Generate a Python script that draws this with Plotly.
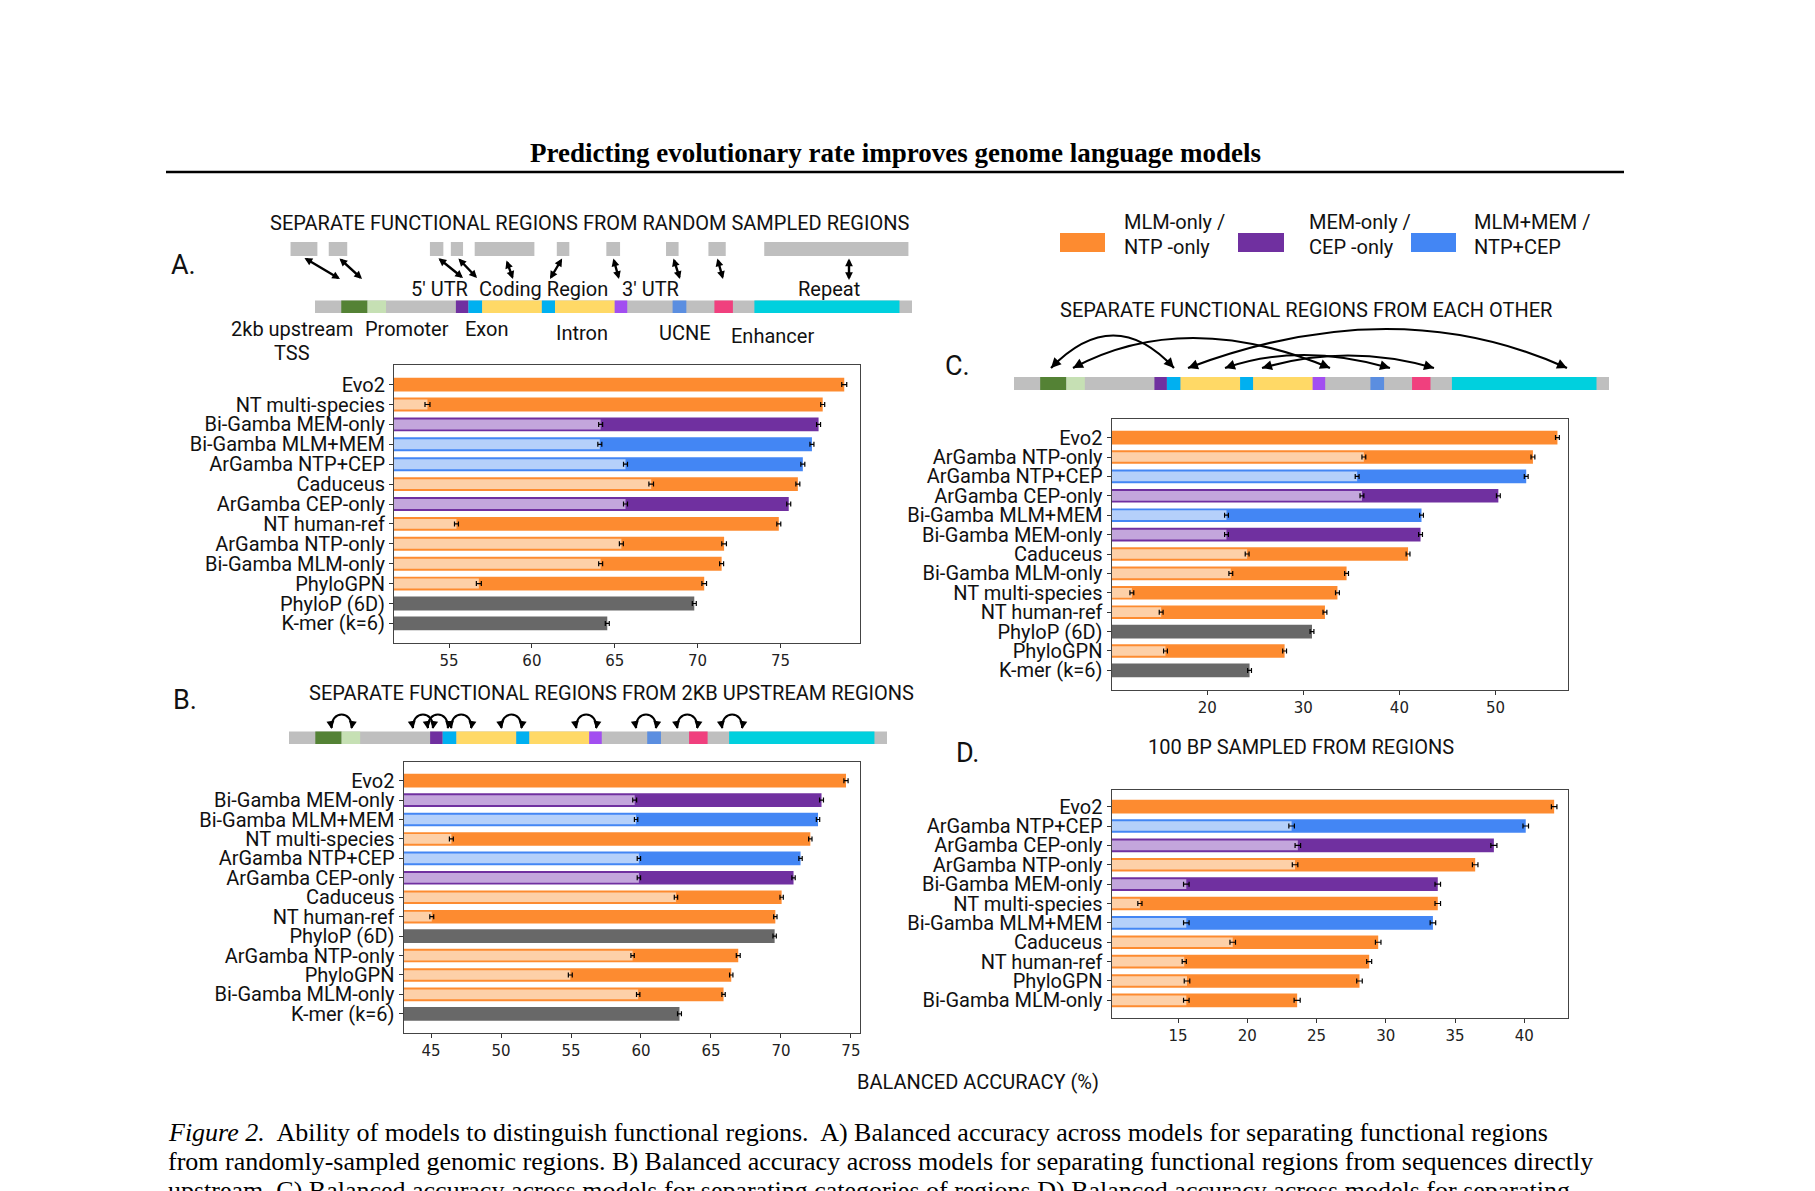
import plotly.graph_objects as go

W, H = 1815, 1191
PAGE_OFFSET = 8  # the browser body margin shifts the figure by this many pixels

# ---------------- data (balanced accuracy, %) ----------------
A_models = ["Evo2", "NT multi-species", "Bi-Gamba MEM-only", "Bi-Gamba MLM+MEM", "ArGamba NTP+CEP",
            "Caduceus", "ArGamba CEP-only", "NT human-ref", "ArGamba NTP-only", "Bi-Gamba MLM-only",
            "PhyloGPN", "PhyloP (6D)", "K-mer (k=6)"]
A_trained = [78.85, 77.55, 77.3, 76.9, 76.35, 76.05, 75.5, 74.9, 71.6, 71.45, 70.4, 69.8, 64.55]
A_trained_err = [0.15, 0.12, 0.12, 0.12, 0.12, 0.12, 0.12, 0.12, 0.14, 0.12, 0.14, 0.12, 0.12]
A_base = [None, 53.7, 64.15, 64.1, 65.65, 67.2, 65.65, 55.45, 65.4, 64.15, 56.8, None, None]
A_base_err = [None, 0.15, 0.12, 0.12, 0.12, 0.14, 0.12, 0.12, 0.12, 0.12, 0.15, None, None]
A_kind = ["mlm", "mlm", "mem", "both", "both", "mlm", "mem", "mlm", "mlm", "mlm", "mlm", "base", "base"]

B_models = ["Evo2", "Bi-Gamba MEM-only", "Bi-Gamba MLM+MEM", "NT multi-species", "ArGamba NTP+CEP",
            "ArGamba CEP-only", "Caduceus", "NT human-ref", "PhyloP (6D)", "ArGamba NTP-only",
            "PhyloGPN", "Bi-Gamba MLM-only", "K-mer (k=6)"]
B_trained = [74.65, 72.9, 72.65, 72.1, 71.4, 70.9, 70.05, 69.6, 69.55, 66.95, 66.45, 65.9, 62.75]
B_trained_err = [0.15, 0.14, 0.12, 0.12, 0.12, 0.12, 0.12, 0.12, 0.12, 0.14, 0.12, 0.12, 0.14]
B_base = [None, 59.55, 59.65, 46.45, 59.85, 59.85, 62.5, 45.05, None, 59.4, 54.95, 59.8, None]
B_base_err = [None, 0.14, 0.12, 0.14, 0.12, 0.12, 0.12, 0.14, None, 0.12, 0.14, 0.12, None]
B_kind = ["mlm", "mem", "both", "mlm", "both", "mem", "mlm", "mlm", "base", "mlm", "mlm", "mlm", "base"]

C_models = ["Evo2", "ArGamba NTP-only", "ArGamba NTP+CEP", "ArGamba CEP-only", "Bi-Gamba MLM+MEM",
            "Bi-Gamba MEM-only", "Caduceus", "Bi-Gamba MLM-only", "NT multi-species", "NT human-ref",
            "PhyloP (6D)", "PhyloGPN", "K-mer (k=6)"]
C_trained = [56.45, 53.9, 53.2, 50.3, 42.3, 42.2, 40.9, 34.5, 33.55, 32.25, 30.9, 28.05, 24.4]
C_trained_err = [0.2, 0.2, 0.2, 0.2, 0.2, 0.2, 0.2, 0.2, 0.2, 0.2, 0.2, 0.2, 0.2]
C_base = [None, 36.3, 35.6, 36.1, 22.0, 22.0, 24.15, 22.45, 12.15, 15.2, None, 15.65, None]
C_base_err = [None, 0.2, 0.2, 0.2, 0.2, 0.2, 0.2, 0.2, 0.2, 0.2, None, 0.2, None]
C_kind = ["mlm", "mlm", "both", "mem", "both", "mem", "mlm", "mlm", "mlm", "mlm", "base", "mlm", "base"]

D_models = ["Evo2", "ArGamba NTP+CEP", "ArGamba CEP-only", "ArGamba NTP-only", "Bi-Gamba MEM-only",
            "NT multi-species", "Bi-Gamba MLM+MEM", "Caduceus", "NT human-ref", "PhyloGPN",
            "Bi-Gamba MLM-only"]
D_trained = [42.15, 40.1, 37.8, 36.45, 33.75, 33.75, 33.4, 29.45, 28.8, 28.1, 23.6]
D_trained_err = [0.2, 0.2, 0.22, 0.2, 0.2, 0.2, 0.2, 0.2, 0.18, 0.2, 0.22]
D_base = [None, 23.2, 23.65, 23.45, 15.6, 12.25, 15.6, 18.95, 15.45, 15.65, 15.6]
D_base_err = [None, 0.2, 0.2, 0.2, 0.2, 0.15, 0.2, 0.2, 0.15, 0.2, 0.2]
D_kind = ["mlm", "both", "mem", "mlm", "mem", "mlm", "both", "mlm", "mlm", "mlm", "mlm"]

A_ticks = [55, 60, 65, 70, 75]
B_ticks = [45, 50, 55, 60, 65, 70, 75]
C_ticks = [20, 30, 40, 50]
D_ticks = [15, 20, 25, 30, 35, 40]

# ---------------- styling ----------------
DARK = {"mlm": "#fd8b30", "mem": "#7030a0", "both": "#4386f4", "base": "#686868"}
LIGHT = {"mlm": "#fdd0a8", "mem": "#c3a6dc", "both": "#b5d0fa", "base": "#686868"}
LABEL_FONT = "Roboto"
TICK_FONT = "DejaVu Sans"


def fx(x):
    return (x - PAGE_OFFSET) / W


def fy(y):
    return 1 - (y - PAGE_OFFSET) / H


fig = go.Figure()
shapes = []
annos = []

# panel frames in screen pixels: left, right, top, bottom
panels = [
    (A_models, A_trained, A_trained_err, A_base, A_base_err, A_kind, (394, 860, 365, 643), (51.68, 79.8), A_ticks),
    (B_models, B_trained, B_trained_err, B_base, B_base_err, B_kind, (403.5, 860, 761.5, 1033), (43.03, 75.65), B_ticks),
    (C_models, C_trained, C_trained_err, C_base, C_base_err, C_kind, (1111.5, 1568, 418.5, 689.5), (10.03, 57.55), C_ticks),
    (D_models, D_trained, D_trained_err, D_base, D_base_err, D_kind, (1111.5, 1568, 789.5, 1017.5), (10.2, 43.15), D_ticks),
]

layout_axes = {}
for i, (models, trained, terr, base, berr, kind, box, xr, ticks) in enumerate(panels, start=1):
    xa, ya = ("x", "y") if i == 1 else (f"x{i}", f"y{i}")
    n = len(models)
    pos = list(range(n))
    fig.add_trace(go.Bar(
        x=trained, y=pos, orientation="h", width=0.7,
        marker=dict(color=[DARK[k] for k in kind], line=dict(width=0)),
        error_x=dict(type="data", array=terr, color="black", thickness=1.2, width=2.5),
        xaxis=xa, yaxis=ya, showlegend=False,
    ))
    idx = [j for j in pos if base[j] is not None]
    fig.add_trace(go.Bar(
        x=[base[j] for j in idx], y=idx, orientation="h", width=0.5,
        marker=dict(color=[LIGHT[kind[j]] for j in idx], line=dict(width=0)),
        error_x=dict(type="data", array=[berr[j] for j in idx], color="black", thickness=1.2, width=2.5),
        xaxis=xa, yaxis=ya, showlegend=False,
    ))
    l, r, t, b = box
    m = 0.05 * (n - 1 + 0.7) + 0.35
    key = "" if i == 1 else str(i)
    layout_axes["xaxis" + key] = dict(
        domain=[fx(l), fx(r)], range=list(xr), anchor=ya, tickvals=ticks,
        ticks="outside", ticklen=4, tickcolor="#333", showline=True, mirror=True,
        linecolor="#444", linewidth=1, showgrid=False, zeroline=False,
        tickfont=dict(family=TICK_FONT, size=15, color="#222"),
    )
    layout_axes["yaxis" + key] = dict(
        domain=[fy(b), fy(t)], range=[n - 1 + m, -m], anchor=xa, tickvals=pos, ticktext=models,
        ticks="outside", ticklen=4, tickcolor="#333", showline=True, mirror=True,
        linecolor="#444", linewidth=1, showgrid=False, zeroline=False,
        tickfont=dict(family=LABEL_FONT, size=20, color="#111"),
    )

# ---------------- genome schematics ----------------
GENOME_GREY = "#bfbfbf"
SEGMENTS = [
    (0.044, 0.088, "#548235"), (0.088, 0.119, "#c6e0b4"), (0.236, 0.257, "#7030a0"),
    (0.257, 0.280, "#00b0f0"), (0.280, 0.380, "#ffd966"), (0.380, 0.402, "#00b0f0"),
    (0.402, 0.502, "#ffd966"), (0.502, 0.523, "#a24ef0"), (0.599, 0.622, "#5b8ee0"),
    (0.669, 0.700, "#f0407e"), (0.736, 0.979, "#00d0de"),
]


def rect(x0, x1, y0, y1, color):
    shapes.append(dict(type="rect", xref="paper", yref="paper", x0=fx(x0), x1=fx(x1),
                       y0=fy(y1), y1=fy(y0), fillcolor=color, line=dict(width=0), layer="above"))


def genome_bar(x0, x1, y0, y1):
    rect(x0, x1, y0, y1, GENOME_GREY)
    for s, e, c in SEGMENTS:
        rect(x0 + s * (x1 - x0), x0 + e * (x1 - x0), y0, y1, c)


def text(x, y, s, size=20, family=LABEL_FONT, anchor="center", color="#111", **kw):
    annos.append(dict(x=fx(x), y=fy(y), xref="paper", yref="paper", text=s, showarrow=False,
                      xanchor=anchor, yanchor="middle", font=dict(family=family, size=size, color=color), **kw))


def arrow_head(x, y, dx, dy, length=6, size=1.0):
    # small arrow pointing to (x, y), coming from direction (dx, dy)
    norm = (dx * dx + dy * dy) ** 0.5
    annos.append(dict(x=fx(x), y=fy(y), xref="paper", yref="paper", text="", showarrow=True,
                      axref="pixel", ayref="pixel", ax=-dx / norm * length, ay=-dy / norm * length,
                      arrowhead=2, arrowsize=size, arrowwidth=2, arrowcolor="black", standoff=0))


def arc(xa, ya, xb, yb, cx, cy):
    shapes.append(dict(type="path", xref="paper", yref="paper",
                       path=f"M {fx(xa)},{fy(ya)} Q {fx(cx)},{fy(cy)} {fx(xb)},{fy(yb)}",
                       line=dict(color="black", width=2.2), layer="above"))
    arrow_head(xa, ya, xa - cx, ya - cy)
    arrow_head(xb, yb, xb - cx, yb - cy)


def hop(c, half, base_y, top_y):
    # small rounded arch with heads on both feet
    x0, x1 = c - half, c + half
    shapes.append(dict(type="path", xref="paper", yref="paper",
                       path=(f"M {fx(x0)},{fy(base_y)} C {fx(x0 - 1)},{fy(top_y)} "
                             f"{fx(x1 + 1)},{fy(top_y)} {fx(x1)},{fy(base_y)}"),
                       line=dict(color="black", width=2.2), layer="above"))
    arrow_head(x0, base_y + 1, 0.15, 1, length=4, size=0.8)
    arrow_head(x1, base_y + 1, -0.15, 1, length=4, size=0.8)


# title + rule
text(895, 153, "<b>Predicting evolutionary rate improves genome language models</b>", size=27,
     family="Liberation Serif", color="black")
shapes.append(dict(type="line", xref="paper", yref="paper", x0=fx(166), x1=fx(1624), y0=fy(172), y1=fy(172),
                   line=dict(color="black", width=2.5)))

# panel A schematic
text(589, 223, "SEPARATE FUNCTIONAL REGIONS FROM RANDOM SAMPLED REGIONS")
text(183, 265, "A.", size=27)
ax0, ax1 = 315, 912
for s, e in [(-0.041, 0.004), (0.023, 0.054), (0.1925, 0.215), (0.2275, 0.248), (0.2675, 0.3675),
             (0.405, 0.426), (0.488, 0.511), (0.588, 0.609), (0.659, 0.688), (0.7525, 0.994)]:
    rect(ax0 + s * (ax1 - ax0), ax0 + e * (ax1 - ax0), 242, 256, GENOME_GREY)
genome_bar(ax0, ax1, 300.5, 313)
for xt, yt, xh, yh in [(303, 257, 340, 279), (338, 257, 362, 279), (437, 257, 463, 278), (457, 257, 477, 278),
                       (506, 259, 513, 279), (563, 257, 550, 279), (613, 257, 619, 279), (673, 257, 680, 279),
                       (717, 257, 723, 279), (849, 257, 849, 280)]:
    annos.append(dict(x=fx(xh), y=fy(yh), xref="paper", yref="paper", text="", showarrow=True,
                      axref="pixel", ayref="pixel", ax=xt - xh, ay=yt - yh, arrowside="end+start",
                      arrowhead=2, startarrowhead=2, arrowsize=0.65, startarrowsize=0.65, arrowwidth=2.4,
                      arrowcolor="black", standoff=0, startstandoff=0))
text(439, 289, "5′ UTR")
text(543, 289, "Coding Region")
text(650, 289, "3′ UTR")
text(829, 289, "Repeat")
text(292, 329, "2kb upstream")
text(292, 353, "TSS")
text(407, 329, "Promoter")
text(487, 329, "Exon")
text(582, 333, "Intron")
text(685, 333, "UCNE")
text(772, 336, "Enhancer")

# panel B schematic
text(611, 693, "SEPARATE FUNCTIONAL REGIONS FROM 2KB UPSTREAM REGIONS")
text(185, 700, "B.", size=27)
bx0, bx1 = 289, 887
genome_bar(bx0, bx1, 731.5, 744)
for f in [0.088, 0.224, 0.249, 0.288, 0.372, 0.497, 0.597, 0.666, 0.741]:
    hop(bx0 + f * (bx1 - bx0), 10, 728, 710)

# legend
for x0, x1, col, l1, l2, tx in [(1060, 1105, DARK["mlm"], "MLM-only /", "NTP -only", 1122),
                                (1238, 1284, DARK["mem"], "MEM-only /", "CEP -only", 1307),
                                (1411, 1456, DARK["both"], "MLM+MEM /", "NTP+CEP", 1472)]:
    rect(x0, x1, 233, 252, col)
    text(tx, 222, l1, anchor="left")
    text(tx, 247, l2, anchor="left")

# panel C schematic
text(1306, 310, "SEPARATE FUNCTIONAL REGIONS FROM EACH OTHER")
text(958, 366, "C.", size=27)
genome_bar(1014, 1609, 377, 390)
for xa_, xb_, cx_, cy_ in [(1051, 1174, 1114, 303), (1073, 1330, 1185, 308), (1188, 1567, 1395, 290),
                           (1225, 1390, 1300, 342), (1262, 1434, 1348, 343)]:
    arc(xa_, 368, xb_, 368, cx_, cy_)

# panel D title
text(1301, 747, "100 BP SAMPLED FROM REGIONS")
text(968, 753, "D.", size=27)

# shared axis label
text(978, 1082, "BALANCED ACCURACY (%)")

# caption
cap = [
    "<i>Figure 2.</i>  Ability of models to distinguish functional regions.  A) Balanced accuracy across models for separating functional regions",
    "from randomly-sampled genomic regions. B) Balanced accuracy across models for separating functional regions from sequences directly",
    "upstream. C) Balanced accuracy across models for separating categories of regions D) Balanced accuracy across models for separating",
]
for k, line in enumerate(cap):
    text(166, 1132 + 29 * k, line, size=26, family="Liberation Serif", anchor="left", color="black")

fig.update_layout(
    width=W, height=H, margin=dict(l=0, r=0, t=0, b=0),
    paper_bgcolor="white", plot_bgcolor="white", barmode="overlay",
    showlegend=False, shapes=shapes, annotations=annos, **layout_axes,
)

fig.write_html("out.html")
